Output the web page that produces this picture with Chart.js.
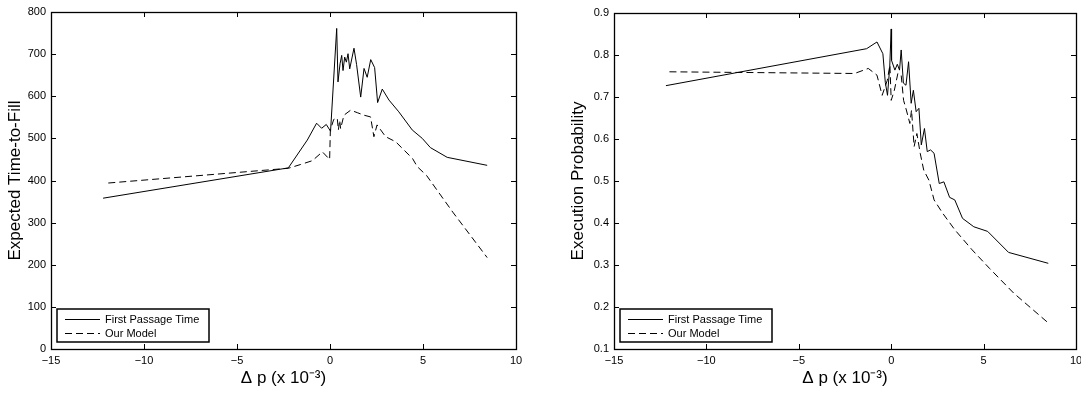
<!DOCTYPE html>
<html>
<head>
<meta charset="utf-8">
<script src="https://cdn.jsdelivr.net/npm/chart.js@4.4.0/dist/chart.umd.min.js"></script>
<style>
  html, body { margin: 0; padding: 0; background: #fff; }
  #wrap { display: flex; width: 1081px; height: 394px; }
</style>
</head>
<body>
<div id="wrap">
  <canvas id="ttf" width="540" height="394"></canvas>
  <canvas id="prob" width="541" height="394"></canvas>
</div>
<script>
// left panel: expected time-to-fill
var ttfFptX = [-12.2, -2.24, -1.22, -0.72, -0.45, -0.2, 0.03, 0.36, 0.43, 0.54, 0.63, 0.7, 0.79, 0.88, 0.97, 1.06, 1.29, 1.43, 1.65, 1.83, 2.0, 2.19, 2.4, 2.56, 2.81, 3.17, 3.7, 4.42, 4.96, 5.4, 6.3, 8.45];
var ttfFptY = [358, 430, 496, 536, 524, 533, 517, 761, 634, 677, 697, 661, 693, 681, 701, 665, 714, 675, 598, 666, 645, 687, 668, 585, 617, 591, 563, 520, 500, 478, 455, 436];
var ttfModelX = [-11.92, -2.24, -1.58, -0.95, -0.41, -0.02, 0.02, 0.2, 0.39, 0.45, 0.52, 0.57, 0.75, 1.11, 1.47, 1.83, 2.18, 2.36, 2.53, 2.99, 3.53, 4.44, 4.69, 5.19, 6.6, 8.45];
var ttfModelY = [394, 429, 438, 447, 468, 450, 520, 545, 548, 520, 543, 523, 555, 567, 561, 555, 551, 504, 532, 504, 492, 452, 433, 412, 325, 217];

// right panel: execution probability
var probFptX = [-12.19, -1.33, -0.77, -0.45, -0.32, -0.2, -0.08, 0.0, 0.02, 0.2, 0.33, 0.45, 0.54, 0.66, 0.8, 0.94, 1.08, 1.2, 1.35, 1.5, 1.63, 1.8, 1.95, 2.13, 2.32, 2.6, 2.85, 3.16, 3.44, 3.86, 4.47, 5.22, 6.35, 8.5];
var probFptY = [0.727, 0.815, 0.831, 0.803, 0.735, 0.704, 0.772, 0.862, 0.787, 0.764, 0.778, 0.764, 0.812, 0.733, 0.728, 0.784, 0.685, 0.716, 0.665, 0.673, 0.586, 0.625, 0.570, 0.574, 0.566, 0.494, 0.498, 0.461, 0.455, 0.411, 0.391, 0.380, 0.330, 0.304];
var probModelX = [-12.0, -1.98, -1.24, -0.77, -0.49, -0.21, -0.07, 0.0, 0.17, 0.36, 0.54, 0.67, 0.82, 1.01, 1.1, 1.24, 1.39, 1.57, 1.76, 2.04, 2.32, 2.79, 3.44, 4.38, 5.32, 6.63, 8.5];
var probModelY = [0.760, 0.756, 0.768, 0.752, 0.704, 0.74, 0.776, 0.692, 0.716, 0.756, 0.752, 0.692, 0.669, 0.637, 0.669, 0.582, 0.613, 0.566, 0.526, 0.502, 0.455, 0.423, 0.384, 0.336, 0.292, 0.233, 0.162];

var seriesNames = ['First Passage Time', 'Our Model'];
var xTitle = '\u0394 p (x 10\u207B\u00B3)';
var fontFam = '"Liberation Sans", Arial, Helvetica, sans-serif';

function pts(xs, ys) {
  var out = [];
  for (var i = 0; i < xs.length; i++) out.push({x: xs[i], y: ys[i]});
  return out;
}

function minusSign(v) {
  return v < 0 ? '\u2212' + Math.abs(v) : '' + v;
}

// box, inward ticks on all sides, legend in lower left
var matlabAxes = {
  id: 'matlabAxes',
  afterDraw: function(chart) {
    var ctx = chart.ctx, a = chart.chartArea;
    var xs = chart.scales.x, ys = chart.scales.y;
    ctx.save();
    ctx.strokeStyle = '#000';
    ctx.lineWidth = 1;
    ctx.beginPath();
    xs.ticks.forEach(function(t) {
      var px = Math.round(xs.getPixelForValue(t.value)) + 0.5;
      ctx.moveTo(px, a.bottom); ctx.lineTo(px, a.bottom - 5);
      ctx.moveTo(px, a.top); ctx.lineTo(px, a.top + 5);
    });
    ys.ticks.forEach(function(t) {
      var py = Math.round(ys.getPixelForValue(t.value)) + 0.5;
      ctx.moveTo(a.left, py); ctx.lineTo(a.left + 5, py);
      ctx.moveTo(a.right, py); ctx.lineTo(a.right - 5, py);
    });
    ctx.stroke();
    ctx.lineWidth = 1.3;
    ctx.strokeRect(a.left + 0.5, a.top + 0.5, a.right - a.left, a.bottom - a.top);

    // legend
    var lx = a.left + 6, lw = 152, lh = 33, ly = a.bottom - 7 - lh;
    ctx.fillStyle = '#fff';
    ctx.fillRect(lx, ly, lw, lh);
    ctx.lineWidth = 1.5;
    ctx.strokeRect(lx, ly, lw, lh);
    ctx.font = '11px ' + fontFam;
    ctx.textBaseline = 'middle';
    chart.data.datasets.forEach(function(ds, i) {
      var y = Math.round(ly + 10 + i * 14) + 0.5;
      ctx.lineWidth = 1;
      ctx.setLineDash(ds.borderDash || []);
      ctx.beginPath();
      ctx.moveTo(lx + 8, y); ctx.lineTo(lx + 43, y);
      ctx.stroke();
      ctx.setLineDash([]);
      ctx.fillStyle = '#000';
      ctx.fillText(ds.label, lx + 48, y);
    });
    ctx.restore();
  }
};

function makeChart(id, fpt, model, yOpts, axisW, padRight, padTop, yTitlePad) {
  return new Chart(document.getElementById(id), {
    type: 'scatter',
    data: {
      datasets: [{
        label: seriesNames[0],
        data: fpt,
        showLine: true,
        borderColor: '#000',
        borderWidth: 1,
        pointRadius: 0
      }, {
        label: seriesNames[1],
        data: model,
        showLine: true,
        borderColor: '#000',
        borderWidth: 1,
        borderDash: [7, 4],
        pointRadius: 0
      }]
    },
    options: {
      responsive: false,
      animation: false,
      layout: { padding: { left: 0, right: padRight, top: padTop, bottom: 0 } },
      plugins: { legend: { display: false }, tooltip: { enabled: false } },
      scales: {
        x: {
          type: 'linear', min: -15, max: 10,
          grid: { display: false, drawTicks: false },
          border: { display: false },
          ticks: { stepSize: 5, padding: 5, color: '#000', font: { size: 11, family: fontFam }, callback: minusSign },
          title: { display: true, text: xTitle, color: '#000', font: { size: 17, family: fontFam }, padding: { top: 0, bottom: 5 } },
          afterFit: function(s) { s.height = 45; s.paddingLeft = 0; s.paddingRight = 0; }
        },
        y: {
          type: 'linear', min: yOpts.min, max: yOpts.max,
          grid: { display: false, drawTicks: false },
          border: { display: false },
          ticks: { stepSize: yOpts.step, padding: 5, color: '#000', font: { size: 11, family: fontFam }, callback: yOpts.fmt },
          title: { display: true, text: yOpts.title, color: '#000', font: { size: 17, family: fontFam }, padding: { top: yTitlePad, bottom: 0 } },
          afterFit: function(s) { s.width = axisW; s.paddingTop = 0; s.paddingBottom = 0; }
        }
      }
    },
    plugins: [matlabAxes]
  });
}

makeChart('ttf', pts(ttfFptX, ttfFptY), pts(ttfModelX, ttfModelY),
  { min: 0, max: 800, step: 100, title: 'Expected Time-to-Fill', fmt: function(v) { return '' + v; } },
  51, 24, 12, 5);

makeChart('prob', pts(probFptX, probFptY), pts(probModelX, probModelY),
  { min: 0.1, max: 0.9, step: 0.1, title: 'Execution Probability', fmt: function(v) { return v.toFixed(1); } },
  74, 5, 13, 28);
</script>
</body>
</html>
